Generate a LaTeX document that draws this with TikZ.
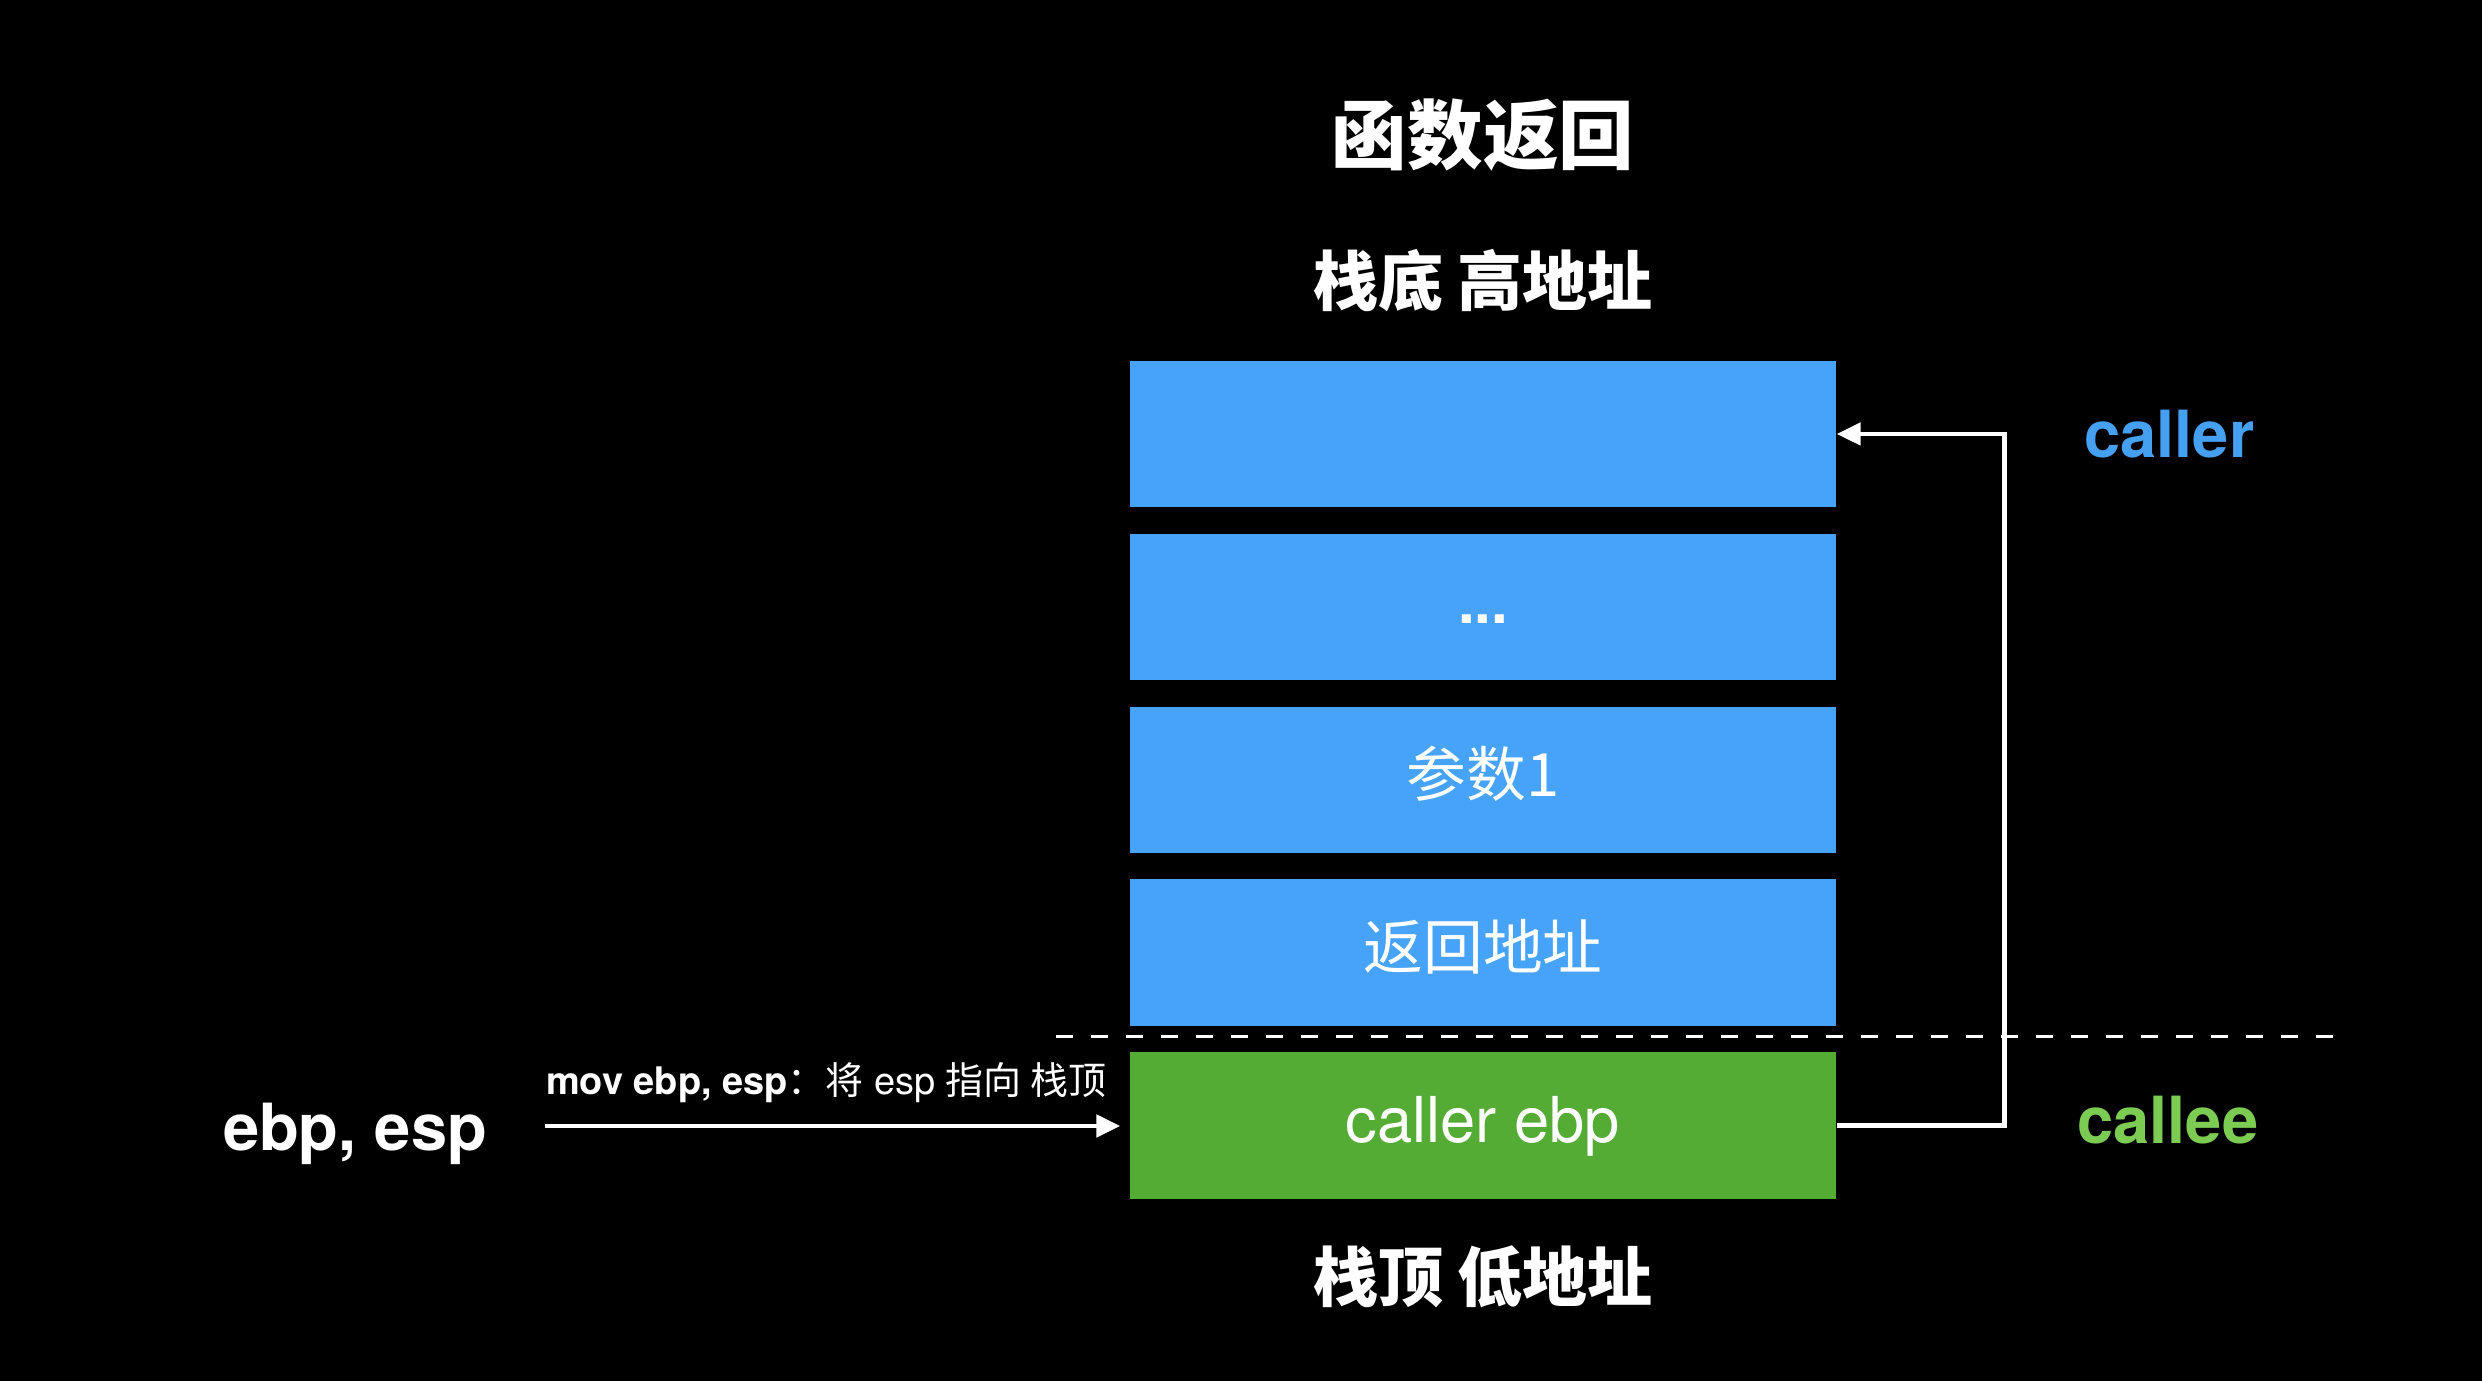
\documentclass[tikz,border=0pt]{standalone}
\usepackage{fontspec}
\setmainfont{TeX Gyre Heros}
\newfontfamily\cjk{Noto Sans CJK SC}
\usetikzlibrary{arrows.meta, positioning, calc}

\definecolor{stackblue}{HTML}{46A3F8}
\definecolor{calleegreen}{HTML}{55AC35}
\definecolor{callerblue}{HTML}{45A0F2}
\definecolor{calleelight}{HTML}{7CCB52}

\begin{document}
\begin{tikzpicture}[node distance=0.25cm]
\tikzstyle{slot}=[rectangle, minimum width=7.06cm, minimum height=1.465cm, inner sep=0pt, text=white, text height=1.05em, text depth=0.1em, font=\fontsize{17}{20}\selectfont]
\tikzstyle{callerslot}=[slot, fill=stackblue]
\tikzstyle{calleeslot}=[slot, fill=calleegreen]
\tikzstyle{heading}=[inner sep=0pt, text=white, text height=0.85em, text depth=0.1em, font=\cjk\bfseries\fontsize{18.5}{22}\selectfont]
\tikzstyle{sidelabel}=[inner sep=0pt, text height=0.85em, text depth=0.1em, font=\bfseries\fontsize{18.5}{22}\selectfont]
\tikzstyle{note}=[inner sep=0pt, text=white, text height=0.85em, text depth=0.1em, font=\fontsize{10.8}{13}\selectfont]
\tikzstyle{link}=[white, line width=1.4pt, -{Triangle[length=0.24cm, width=0.22cm]}]

\fill[black] (0,0) rectangle (24.82,13.81);
\useasboundingbox (0,0) rectangle (24.82,13.81);

% stack, high address on top
\node[callerslot] (b1) at (14.83,9.47) {};
\node[callerslot] (b2) [below = of b1] {\bfseries ...};
\node[callerslot] (b3) [below = of b2] {\cjk 参数1};
\node[callerslot] (b4) [below = of b3] {\cjk 返回地址};
\node[calleeslot, font=\fontsize{18}{21}\selectfont] (cebp) [below = of b4] {caller ebp};

\node[heading] (hi) [above = 0.5cm of b1] {栈底 高地址};
\node[heading, font=\cjk\bfseries\fontsize{21.5}{26}\selectfont] (title) [above = 1.08cm of hi] {函数返回};
\node[heading] (lo) [below = 0.71cm of cebp] {栈顶 低地址};

\node[sidelabel, text=callerblue, yshift=-0.1cm] (callerlbl) [right = 2.47cm of b1] {caller};
\node[sidelabel, text=calleelight, yshift=-0.05cm] (calleelbl) [right = 2.4cm of cebp] {callee};

\draw[white, line width=0.9pt, dash pattern=on 0.17cm off 0.18cm] (10.56,3.445) -- (23.46,3.445);

\node[sidelabel, text=white] (regs) at (3.55,2.44) {ebp, esp};
\coordinate (movstart) at (5.45,2.55);

\path
  (cebp.east) edge [link, to path={-- ++(1.68,0) |- (\tikztotarget)}] (b1.east)
  (movstart) edge [link, shorten >=0.09cm] node[note, midway, above=0.26cm, xshift=-0.11cm] () {{\bfseries mov ebp, esp}{\cjk ：将} esp {\cjk 指向 栈顶}} (movstart -| cebp.west);
\end{tikzpicture}
\end{document}
